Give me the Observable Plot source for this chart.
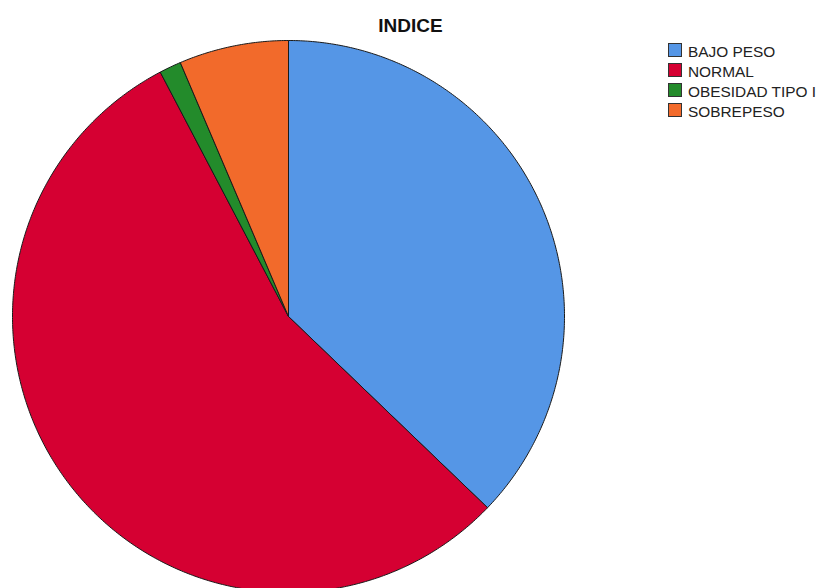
<!DOCTYPE html>
<html>
<head>
<meta charset="utf-8">
<script src="https://cdn.jsdelivr.net/npm/d3@7"></script>
<script src="https://cdn.jsdelivr.net/npm/@observablehq/plot@0.6"></script>
<style>
  html, body { margin: 0; padding: 0; background: #fff; }
  #wrap { position: relative; width: 818px; height: 588px; overflow: hidden; font-family: "Liberation Sans", Arial, sans-serif; }
  #wrap svg { position: absolute; left: 0; top: 0; }
  #title { position: absolute; left: 0; width: 821px; top: 16px; text-align: center; font-size: 19px; line-height: 19px; font-weight: bold; color: #111; }
  #legend { position: absolute; left: 668px; top: 42px; }
  .row { height: 20px; line-height: 20px; font-size: 15.4px; color: #222; white-space: nowrap; position: relative; padding-left: 20px; }
  .sw { position: absolute; left: 0; top: 1px; width: 14px; height: 14px; box-sizing: border-box; border: 1px solid #333; }
</style>
</head>
<body>
<div id="wrap">
  <div id="title"></div>
  <div id="legend"></div>
</div>
<script>
const title = "INDICE";
const categories = ["BAJO PESO", "NORMAL", "OBESIDAD TIPO I", "SOBREPESO"];
const counts = [29, 43, 1, 5];
const colors = ["#5596e6", "#d50032", "#238b2b", "#f26a2b"];

const W = 818, H = 588, CX = 288, CY = 316, R = 276;

const table = categories.map((c, i) => ({category: c, value: counts[i]}));
const arcs = d3.pie().sort(null).value(d => d.value)(table);

// outline points of each slice (unit circle, angle clockwise from 12 o'clock)
const pts = [];
for (const a of arcs) {
  const cat = a.data.category;
  pts.push({category: cat, x: 0, y: 0});
  const n = Math.max(2, Math.ceil((a.endAngle - a.startAngle) / (Math.PI / 360)));
  for (let k = 0; k <= n; k++) {
    const t = a.startAngle + (a.endAngle - a.startAngle) * k / n;
    pts.push({category: cat, x: Math.sin(t), y: Math.cos(t)});
  }
  pts.push({category: cat, x: 0, y: 0});
}

const chart = Plot.plot({
  width: W,
  height: H,
  margin: 0,
  x: {domain: [-CX / R, (W - CX) / R], axis: null},
  y: {domain: [-(H - CY) / R, CY / R], axis: null},
  color: {domain: categories, range: colors},
  marks: [
    Plot.line(pts, {x: "x", y: "y", z: "category", fill: "category", stroke: "#1a1a1a", strokeWidth: 1, strokeLinejoin: "round", curve: "linear"})
  ]
});
document.getElementById("wrap").prepend(chart);

document.getElementById("title").textContent = title;
const legend = document.getElementById("legend");
categories.forEach((c, i) => {
  const row = document.createElement("div");
  row.className = "row";
  const sw = document.createElement("span");
  sw.className = "sw";
  sw.style.background = colors[i];
  row.appendChild(sw);
  row.appendChild(document.createTextNode(c));
  legend.appendChild(row);
});
</script>
</body>
</html>
